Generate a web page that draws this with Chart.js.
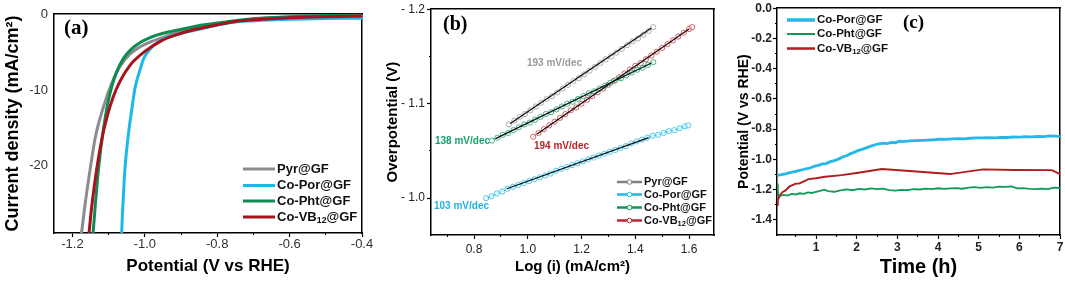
<!DOCTYPE html>
<html><head><meta charset="utf-8">
<script src="https://cdn.jsdelivr.net/npm/chart.js@4"></script>
<style>
html,body{margin:0;padding:0;background:#fff;}
#wrap{position:relative;width:1065px;height:281px;overflow:hidden;background:#fff;}
canvas{position:absolute;left:0;top:0;}
</style></head><body>
<div id="wrap">
<canvas id="ca" width="1065" height="281"></canvas>
<canvas id="cb" width="1065" height="281"></canvas>
<canvas id="cc" width="1065" height="281"></canvas>
</div>
<script>
// ---------- Panel (a) LSV data ----------
const lsvNames = ['Pyr@GF', 'Co-Por@GF', 'Co-Pht@GF', 'Co-VB₁₂@GF'];
const pyrV = [-1.182,-1.175,-1.164,-1.151,-1.136,-1.114,-1.093,-1.068,-1.043,-1.018,-0.984,-0.944,-0.895,-0.846,-0.776,-0.697,-0.598,-0.499,-0.400];
const pyrJ = [-31,-29,-24.8,-20.5,-16.1,-12.2,-9.3,-6.8,-5.3,-4.4,-3.6,-2.9,-2.2,-1.6,-1.1,-0.6,-0.3,-0.12,-0.03];
const porV = [-1.065,-1.064,-1.060,-1.055,-1.046,-1.034,-1.027,-1.015,-1.003,-0.984,-0.956,-0.920,-0.876,-0.826,-0.766,-0.697,-0.598,-0.499,-0.400];
const porJ = [-31,-29,-24.8,-20.5,-16.1,-11.9,-9.7,-7.6,-5.8,-4.5,-3.4,-2.75,-2.2,-1.65,-1.05,-0.8,-0.6,-0.5,-0.45];
const phtV = [-1.147,-1.143,-1.136,-1.128,-1.117,-1.103,-1.091,-1.078,-1.059,-1.038,-1.013,-0.984,-0.944,-0.895,-0.846,-0.776,-0.697,-0.598,-0.499,-0.400];
const phtJ = [-31,-29,-24.8,-20.5,-16.1,-11.9,-9.5,-7.6,-5.8,-4.6,-3.7,-3.0,-2.4,-1.9,-1.4,-0.95,-0.5,-0.25,-0.1,-0.02];
const vbV = [-1.157,-1.154,-1.145,-1.133,-1.117,-1.104,-1.088,-1.068,-1.039,-0.998,-0.956,-0.915,-0.865,-0.806,-0.746,-0.677,-0.598,-0.499,-0.400];
const vbJ = [-31,-29,-24.8,-20.5,-16.1,-13.5,-11.0,-8.8,-6.6,-4.8,-3.5,-2.7,-2.0,-1.4,-0.85,-0.6,-0.4,-0.26,-0.17];
const aXTicks = [-1.2,-1.0,-0.8,-0.6,-0.4];
const aXLabels = ['-1.2','-1.0','-0.8','-0.6','-0.4'];
const aXMinor = [-1.1,-0.9,-0.7,-0.5];
const aYTicks = [0,-10,-20];
const aYLabels = ['0','-10','-20'];

// ---------- Panel (b) Tafel data ----------
const tafPyrX = [0.93,0.95,0.97,0.99,1.01,1.03,1.05,1.07,1.09,1.11,1.13,1.15,1.17,1.19,1.21,1.23,1.25,1.27,1.29,1.31,1.33,1.35,1.37,1.39,1.41,1.43,1.45,1.467];
const tafPyrY = [-1.078,-1.082,-1.086,-1.089,-1.093,-1.097,-1.101,-1.105,-1.108,-1.112,-1.116,-1.120,-1.124,-1.127,-1.131,-1.135,-1.139,-1.143,-1.147,-1.150,-1.154,-1.158,-1.162,-1.166,-1.169,-1.173,-1.177,-1.181];
const tafPorX = [0.845,0.865,0.885,0.905,0.925,0.945,0.965,0.985,1.005,1.025,1.045,1.065,1.085,1.105,1.125,1.145,1.165,1.185,1.205,1.225,1.245,1.265,1.285,1.305,1.325,1.345,1.365,1.385,1.405,1.425,1.445,1.465,1.485,1.505,1.525,1.545,1.565,1.585,1.597];
const tafPorY = [-1.000,-1.002,-1.005,-1.007,-1.010,-1.012,-1.014,-1.016,-1.018,-1.020,-1.022,-1.024,-1.026,-1.029,-1.031,-1.033,-1.035,-1.037,-1.039,-1.041,-1.043,-1.045,-1.047,-1.049,-1.051,-1.053,-1.055,-1.058,-1.060,-1.062,-1.064,-1.066,-1.067,-1.069,-1.071,-1.072,-1.074,-1.076,-1.077];
const tafPhtX = [0.867,0.887,0.907,0.927,0.947,0.967,0.987,1.007,1.027,1.047,1.067,1.087,1.107,1.127,1.147,1.167,1.187,1.207,1.227,1.247,1.267,1.287,1.307,1.327,1.347,1.367,1.387,1.407,1.427,1.447,1.467];
const tafPhtY = [-1.061,-1.064,-1.067,-1.069,-1.072,-1.075,-1.078,-1.080,-1.083,-1.086,-1.089,-1.091,-1.094,-1.097,-1.100,-1.102,-1.105,-1.108,-1.111,-1.113,-1.116,-1.119,-1.122,-1.125,-1.127,-1.130,-1.133,-1.136,-1.138,-1.141,-1.144];
const tafVbX = [1.02,1.04,1.06,1.08,1.10,1.12,1.14,1.16,1.18,1.20,1.22,1.24,1.26,1.28,1.30,1.32,1.34,1.36,1.38,1.40,1.42,1.44,1.46,1.48,1.50,1.52,1.54,1.56,1.58,1.60,1.612];
const tafVbY = [-1.065,-1.069,-1.073,-1.077,-1.081,-1.085,-1.089,-1.093,-1.096,-1.100,-1.104,-1.108,-1.112,-1.116,-1.120,-1.124,-1.128,-1.132,-1.136,-1.140,-1.143,-1.147,-1.151,-1.155,-1.159,-1.163,-1.167,-1.171,-1.175,-1.179,-1.181];
const fitPyrX = [0.935,1.46], fitPyrY = [-1.079,-1.180];
const fitPorX = [0.922,1.45], fitPorY = [-1.010,-1.064];
const fitPhtX = [0.88,1.46],  fitPhtY = [-1.063,-1.143];
const fitVbX = [1.035,1.60],  fitVbY = [-1.068,-1.179];
const tafelSlopes = ['193 mV/dec','103 mV/dec','138 mV/dec','194 mV/dec'];
const bXTicks = [0.8,1.0,1.2,1.4,1.6];
const bXLabels = ['0.8','1.0','1.2','1.4','1.6'];
const bXMinor = [0.7,0.9,1.1,1.3,1.5];
const bYTicks = [-1.2,-1.1,-1.0];
const bYLabels = ['- 1.2','- 1.1','- 1.0'];
const bYMinor = [-1.15,-1.05];

// ---------- Panel (c) chronopotentiometry ----------
const chronoNames = ['Co-Por@GF','Co-Pht@GF','Co-VB₁₂@GF'];
const cPorT = [0.04,0.15,0.25,0.35,0.45,0.55,0.65,0.75,0.85,0.95,1.05,1.15,1.25,1.35,1.45,1.55,1.65,1.75,1.85,1.95,2.05,2.15,2.25,2.35,2.45,2.55,2.65,2.75,2.85,2.95,3.05,3.15,3.3,3.45,3.6,3.75,3.9,4.05,4.2,4.35,4.5,4.65,4.8,4.95,5.1,5.25,5.4,5.55,5.7,5.85,6.0,6.15,6.3,6.45,6.6,6.75,6.9,7.0];
const cPorV = [-1.108,-1.100,-1.095,-1.088,-1.082,-1.076,-1.070,-1.062,-1.057,-1.046,-1.040,-1.030,-1.028,-1.015,-1.008,-0.998,-0.984,-0.976,-0.962,-0.952,-0.940,-0.932,-0.922,-0.912,-0.903,-0.898,-0.893,-0.895,-0.888,-0.890,-0.880,-0.882,-0.878,-0.876,-0.874,-0.872,-0.870,-0.866,-0.868,-0.864,-0.862,-0.864,-0.860,-0.857,-0.858,-0.856,-0.857,-0.854,-0.855,-0.852,-0.853,-0.850,-0.851,-0.848,-0.849,-0.845,-0.846,-0.850];
const cPhtT = [0.04,0.06,0.08,0.12,0.2,0.3,0.4,0.5,0.6,0.7,0.8,0.9,1.0,1.1,1.2,1.3,1.45,1.6,1.75,1.9,2.05,2.2,2.35,2.5,2.65,2.8,2.95,3.1,3.25,3.4,3.55,3.7,3.85,4.0,4.15,4.3,4.45,4.6,4.75,4.9,5.05,5.2,5.35,5.5,5.65,5.8,5.95,6.1,6.25,6.4,6.55,6.7,6.85,7.0];
const cPhtV = [-1.16,-1.20,-1.255,-1.24,-1.235,-1.24,-1.228,-1.232,-1.224,-1.228,-1.218,-1.222,-1.214,-1.208,-1.200,-1.210,-1.214,-1.205,-1.198,-1.204,-1.195,-1.199,-1.192,-1.196,-1.193,-1.203,-1.207,-1.201,-1.203,-1.196,-1.199,-1.193,-1.197,-1.191,-1.195,-1.192,-1.190,-1.194,-1.186,-1.183,-1.188,-1.183,-1.186,-1.180,-1.182,-1.178,-1.192,-1.190,-1.195,-1.197,-1.193,-1.196,-1.187,-1.188];
const cVbT = [0.04,0.06,0.1,0.18,0.25,0.34,0.42,0.5,0.58,0.66,0.74,0.81,1.0,1.22,1.63,2.04,2.62,3.3,4.29,5.11,5.89,6.8,7.0];
const cVbV = [-1.30,-1.27,-1.24,-1.215,-1.205,-1.18,-1.17,-1.16,-1.16,-1.15,-1.14,-1.13,-1.125,-1.115,-1.104,-1.088,-1.064,-1.077,-1.097,-1.066,-1.070,-1.071,-1.097];
const cXTicks = [1,2,3,4,5,6,7];
const cXLabels = ['1','2','3','4','5','6','7'];
const cXMinor = [0.5,1.5,2.5,3.5,4.5,5.5,6.5];
const cYTicks = [0,-0.2,-0.4,-0.6,-0.8,-1.0,-1.2,-1.4];
const cYLabels = ['0.0','-0.2','-0.4','-0.6','-0.8','-1.0','-1.2','-1.4'];
const cYMinor = [-0.1,-0.3,-0.5,-0.7,-0.9,-1.1,-1.3];

// ---------- helpers ----------
const FONT = '"Liberation Sans", Arial, Helvetica, sans-serif';
const SERIF = '"Liberation Serif", "Times New Roman", serif';
const pts = (xs, ys) => xs.map((x, i) => ({x, y: ys[i]}));

function mainAxis(o) {
  const isX = o.axis === 'x';
  return {
    type: 'linear', axis: o.axis, position: o.position, min: o.min, max: o.max,
    reverse: !!o.reverse, bounds: 'data', weight: 2,
    afterBuildTicks: s => { s.ticks = o.ticks.map(v => ({value: v})); },
    afterFit: s => { if (isX) s.height = o.size; else s.width = o.size; },
    ticks: { autoSkip: false, maxRotation: 0, minRotation: 0, padding: o.pad,
             color: o.tickColor || '#222', font: o.tickFont,
             callback: (v, i) => o.labels[i] },
    grid: { display: true, drawOnChartArea: false, drawTicks: o.tickLen > 0,
            tickLength: o.tickLen || 0, tickWidth: 1.2, tickColor: '#000' },
    border: { display: true, color: '#000', width: 1.5 },
    title: { display: true, text: o.title, color: '#000', font: o.titleFont, padding: o.titlePad }
  };
}
function minorAxis(o) {
  const isX = o.axis === 'x';
  return {
    type: 'linear', axis: o.axis, position: o.position, min: o.min, max: o.max,
    reverse: !!o.reverse, bounds: 'data', weight: 0,
    afterBuildTicks: s => { s.ticks = o.ticks.map(v => ({value: v})); },
    afterFit: s => { if (isX) s.height = 0; else s.width = 0; },
    ticks: { display: false },
    grid: { display: true, drawOnChartArea: false, drawTicks: true, tickLength: o.len, tickWidth: 1.1, tickColor: '#000' },
    border: { display: false },
    title: { display: false }
  };
}
function frameAxis(axis, position) {
  return {
    type: 'linear', axis, position, min: 0, max: 1, bounds: 'data',
    afterFit: s => { if (axis === 'x') s.height = 0; else s.width = 0; },
    ticks: { display: false },
    grid: { display: false, drawTicks: false },
    border: { display: true, color: '#000', width: 1.5 },
    title: { display: false }
  };
}
function drawRich(ctx, str, x, y, size, weight, family, color) {
  const parts = str.split(/([\u2080-\u2089]+)/);
  let cx = x;
  ctx.fillStyle = color;
  ctx.textAlign = 'left';
  ctx.textBaseline = 'middle';
  parts.forEach(p => {
    if (!p) return;
    const sub = /[\u2080-\u2089]/.test(p);
    const txt = sub ? p.replace(/[\u2080-\u2089]/g, c => String.fromCharCode(c.charCodeAt(0) - 0x2080 + 48)) : p;
    const fs = sub ? size * 0.68 : size;
    ctx.font = weight + ' ' + fs + 'px ' + family;
    ctx.fillText(txt, cx, sub ? y + size * 0.28 : y);
    cx += ctx.measureText(txt).width;
  });
}
function makeDecor(spec) {
  return {
    id: 'decor',
    afterDraw(chart) {
      const ctx = chart.ctx;
      ctx.save();
      (spec.texts || []).forEach(t => {
        drawRich(ctx, t.text, t.x, t.y, t.size, t.weight || 'bold', t.family || FONT, t.color || '#000');
      });
      const L = spec.legend;
      if (L) {
        const items = chart.data.datasets.filter(d => d.inLegend);
        items.forEach((d, i) => {
          const y = L.ys[i];
          ctx.strokeStyle = d.legendColor || d.borderColor;
          ctx.lineWidth = d.legendWidth || L.lw;
          ctx.beginPath(); ctx.moveTo(L.x0, y); ctx.lineTo(L.x1, y); ctx.stroke();
          if (L.marker) {
            ctx.lineWidth = 1;
            ctx.fillStyle = '#fff';
            ctx.beginPath(); ctx.arc((L.x0 + L.x1) / 2, y, 2.3, 0, Math.PI * 2); ctx.fill(); ctx.stroke();
          }
          drawRich(ctx, d.label, L.tx, y, L.size, 'bold', FONT, '#111');
        });
      }
      ctx.restore();
    }
  };
}
function makeChart(id, datasets, scales, pad, decorSpec) {
  return new Chart(document.getElementById(id), {
    type: 'scatter',
    data: { datasets },
    options: {
      responsive: false, animation: false, devicePixelRatio: 1, events: [],
      layout: { padding: pad },
      plugins: { legend: { display: false }, tooltip: { enabled: false } },
      scales
    },
    plugins: [makeDecor(decorSpec)]
  });
}

// ---------- Panel (a) ----------
const colA = ['#8c8c8c', '#1bb9ea', '#0f8b52', '#a8121a'];
const lsvData = [[pyrV, pyrJ], [porV, porJ], [phtV, phtJ], [vbV, vbJ]];
const lsvOrder = [3, 2, 1, 0];
const aMinX = -1.251, aMaxX = -0.4, aMinY = -29.03, aMaxY = 0.13;
makeChart('ca',
  lsvData.map((d, i) => ({
    label: lsvNames[i], data: pts(d[0], d[1]), showLine: true, borderColor: colA[i],
    borderWidth: 3, pointRadius: 0, cubicInterpolationMode: 'monotone', order: lsvOrder[i], inLegend: true
  })),
  {
    x: mainAxis({axis: 'x', position: 'bottom', min: aMinX, max: aMaxX, ticks: aXTicks, labels: aXLabels,
      size: 48, pad: 0, tickLen: 4, tickFont: {family: FONT, size: 13}, tickColor: '#333',
      title: 'Potential (V vs RHE)', titleFont: {family: FONT, size: 17, weight: 'bold'}, titlePad: {top: 0, bottom: 4}}),
    xm: minorAxis({axis: 'x', position: 'bottom', min: aMinX, max: aMaxX, ticks: aXMinor, len: 2}),
    y: mainAxis({axis: 'y', position: 'left', min: aMinY, max: aMaxY, ticks: aYTicks, labels: aYLabels,
      size: 54, pad: 6, tickLen: 0, tickFont: {family: FONT, size: 13}, tickColor: '#333',
      title: 'Current density (mA/cm²)', titleFont: {family: FONT, size: 18, weight: 'bold'}, titlePad: {top: 2, bottom: 0}}),
    xt: frameAxis('x', 'top'),
    yr: frameAxis('y', 'right')
  },
  {left: 0, top: 7, right: 703, bottom: 0},
  {
    texts: [{text: '(a)', x: 64, y: 29, size: 21, family: SERIF}],
    legend: {x0: 243, x1: 275, tx: 277, ys: [169, 185.5, 201, 217], lw: 3, size: 13}
  }
);

// ---------- Panel (b) ----------
const colB = ['#9a9a9a', '#22bde8', '#19a06e', '#cf3a40'];
const legB = ['#808080', '#1fb6e6', '#0f9558', '#c0262c'];
const tafData = [[tafPyrX, tafPyrY], [tafPorX, tafPorY], [tafPhtX, tafPhtY], [tafVbX, tafVbY]];
const fitData = [[fitPyrX, fitPyrY], [fitPorX, fitPorY], [fitPhtX, fitPhtY], [fitVbX, fitVbY]];
const bMinX = 0.64, bMaxX = 1.693, bMinY = -1.2, bMaxY = -0.961;
const bSets = tafData.map((d, i) => ({
  label: lsvNames[i], data: pts(d[0], d[1]), showLine: true, borderColor: colB[i], borderWidth: 0.8,
  pointRadius: 2.6, pointBorderWidth: 0.8, pointBorderColor: colB[i], pointBackgroundColor: 'rgba(255,255,255,0.5)',
  order: 5 + i, inLegend: true, legendColor: legB[i]
})).concat(fitData.map(d => ({
  label: 'fit', data: pts(d[0], d[1]), showLine: true, borderColor: '#111', borderWidth: 1.2, pointRadius: 0, order: 0
})));
makeChart('cb', bSets,
  {
    x: mainAxis({axis: 'x', position: 'bottom', min: bMinX, max: bMaxX, ticks: bXTicks, labels: bXLabels,
      size: 46, pad: 3, tickLen: 4, tickFont: {family: FONT, size: 12}, tickColor: '#222',
      title: 'Log (i) (mA/cm²)', titleFont: {family: FONT, size: 15, weight: 'bold'}, titlePad: {top: 0, bottom: 5}}),
    xm: minorAxis({axis: 'x', position: 'bottom', min: bMinX, max: bMaxX, ticks: bXMinor, len: 2}),
    y: mainAxis({axis: 'y', position: 'left', min: bMinY, max: bMaxY, reverse: true, ticks: bYTicks, labels: bYLabels,
      size: 51, pad: 2, tickLen: 4, tickFont: {family: FONT, size: 12}, tickColor: '#222',
      title: 'Overpotential (V)', titleFont: {family: FONT, size: 15, weight: 'bold'}, titlePad: {top: 4, bottom: 0}}),
    ym: minorAxis({axis: 'y', position: 'left', min: bMinY, max: bMaxY, reverse: true, ticks: bYMinor, len: 2}),
    xt: frameAxis('x', 'top'),
    yr: frameAxis('y', 'right')
  },
  {left: 380, top: 7, right: 351, bottom: 0},
  {
    texts: [
      {text: '(b)', x: 443, y: 25, size: 20, family: SERIF},
      {text: tafelSlopes[0], x: 527, y: 63, size: 10, color: '#9a9a9a'},
      {text: tafelSlopes[2], x: 435, y: 141, size: 10, color: '#17a06c'},
      {text: tafelSlopes[3], x: 534, y: 146, size: 10, color: '#b3262b'},
      {text: tafelSlopes[1], x: 434, y: 206, size: 10, color: '#1fb3e3'}
    ],
    legend: {x0: 617, x1: 642, tx: 644, ys: [182, 194.5, 207.5, 220.5], lw: 2.5, size: 11, marker: true}
  }
);

// ---------- Panel (c) ----------
const colC = ['#25b7ea', '#109a5a', '#b31b1f'];
const widC = [2.8, 1.8, 1.9];
const legW = [3.5, 2, 2.5];
const chronoData = [[cPorT, cPorV], [cPhtT, cPhtV], [cVbT, cVbV]];
const cMinX = 0.04, cMaxX = 7, cMinY = -1.5, cMaxY = 0;
makeChart('cc',
  chronoData.map((d, i) => ({
    label: chronoNames[i], data: pts(d[0], d[1]), showLine: true, borderColor: colC[i], borderWidth: widC[i],
    pointRadius: 0, tension: 0, order: 2 - i, inLegend: true, legendWidth: legW[i]
  })),
  {
    x: mainAxis({axis: 'x', position: 'bottom', min: cMinX, max: cMaxX, ticks: cXTicks, labels: cXLabels,
      size: 46, pad: 1, tickLen: 4, tickFont: {family: FONT, size: 12, weight: 'bold'}, tickColor: '#222',
      title: 'Time (h)', titleFont: {family: FONT, size: 20, weight: 'bold'}, titlePad: {top: 0, bottom: 2}}),
    xm: minorAxis({axis: 'x', position: 'bottom', min: cMinX, max: cMaxX, ticks: cXMinor, len: 2}),
    y: mainAxis({axis: 'y', position: 'left', min: cMinY, max: cMaxY, ticks: cYTicks, labels: cYLabels,
      size: 47, pad: 1, tickLen: 4, tickFont: {family: FONT, size: 12, weight: 'bold'}, tickColor: '#222',
      title: 'Potential (V vs RHE)', titleFont: {family: FONT, size: 14, weight: 'bold'}, titlePad: {top: 6, bottom: 0}}),
    ym: minorAxis({axis: 'y', position: 'left', min: cMinY, max: cMaxY, ticks: cYMinor, len: 2}),
    xt: frameAxis('x', 'top'),
    yr: frameAxis('y', 'right')
  },
  {left: 730, top: 8, right: 5, bottom: 0},
  {
    texts: [{text: '(c)', x: 903, y: 23.5, size: 19, family: SERIF}],
    legend: {x0: 787, x1: 815, tx: 817, ys: [20, 34, 48.5], lw: 2, size: 11.5}
  }
);
</script>
</body></html>
